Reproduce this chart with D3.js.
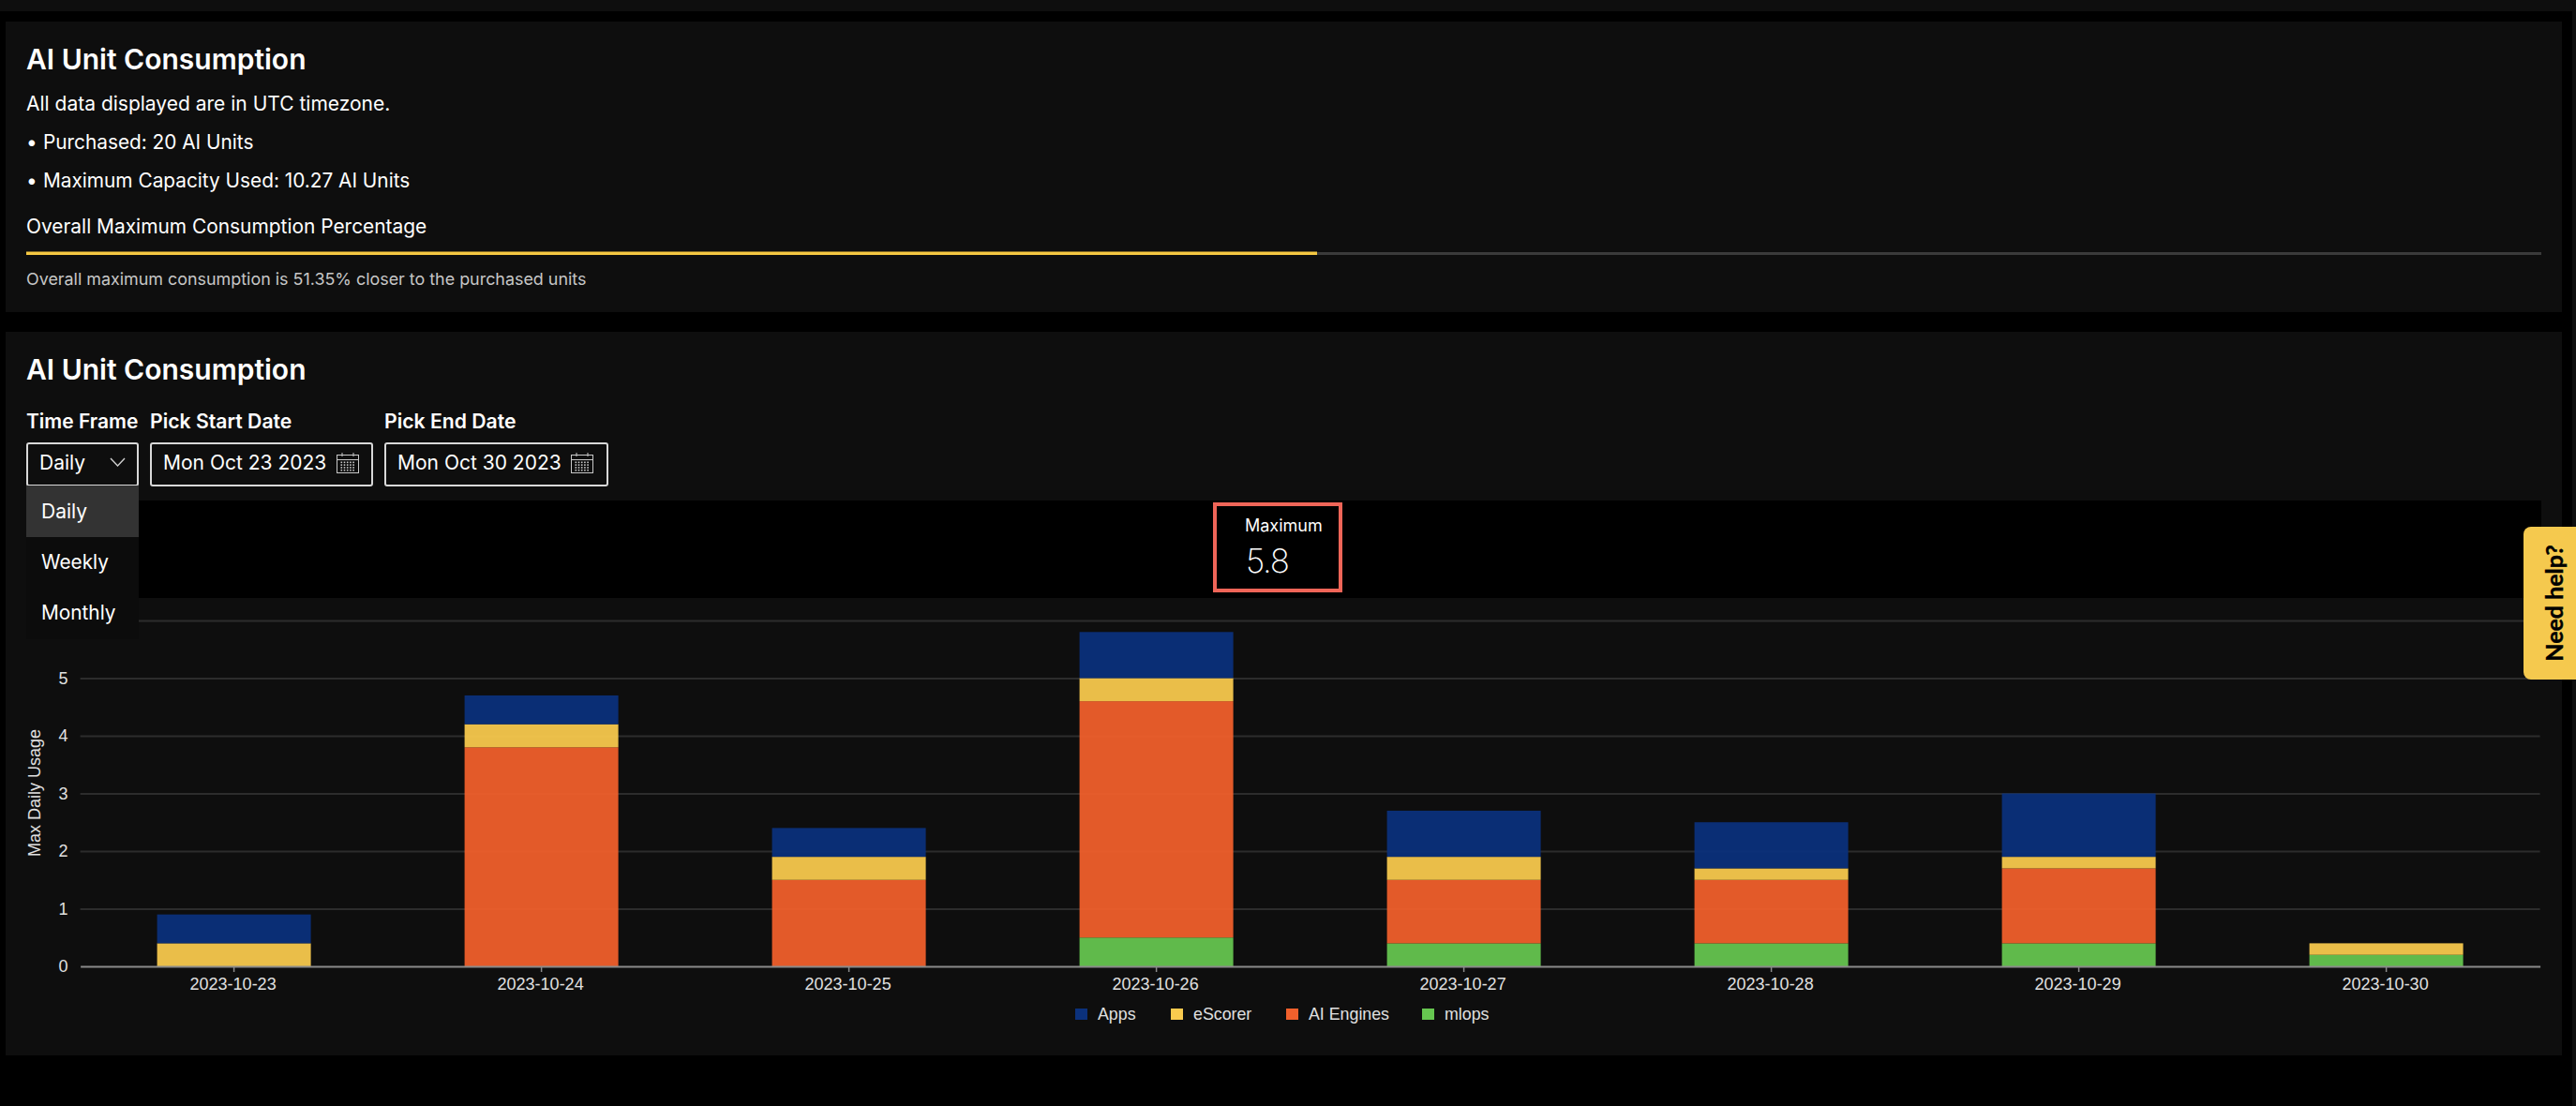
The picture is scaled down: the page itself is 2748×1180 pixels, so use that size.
<!DOCTYPE html>
<html>
<head>
<meta charset="utf-8">
<script src="https://cdn.jsdelivr.net/npm/d3@7.9.0/dist/d3.min.js"></script>
<style>
  html, body { margin: 0; padding: 0; background: #000; overflow: hidden; }
  svg { display: block; }
  text { font-family: Inter, sans-serif; fill: #fff; }
  .chart text { font-family: "Liberation Sans", Arial, sans-serif; }
</style>
</head>
<body>
<svg id="page" width="2748" height="1180"></svg>
<script>
const dates = ["2023-10-23", "2023-10-24", "2023-10-25", "2023-10-26", "2023-10-27", "2023-10-28", "2023-10-29", "2023-10-30"];
const mlops = [0, 0, 0, 0.5, 0.4, 0.4, 0.4, 0.2];
const aiEngines = [0, 3.8, 1.5, 4.1, 1.1, 1.1, 1.3, 0];
const eScorer = [0.4, 0.4, 0.4, 0.4, 0.4, 0.2, 0.2, 0.2];
const apps = [0.5, 0.5, 0.5, 0.8, 0.8, 0.8, 1.1, 0];
const yTicks = [0, 1, 2, 3, 4, 5, 6];

const seriesNames = ["mlops", "AI Engines", "eScorer", "Apps"];
const seriesValues = [mlops, aiEngines, eScorer, apps];
const colors = { "Apps": "#0b317c", "eScorer": "#f9ca4e", "AI Engines": "#f1602c", "mlops": "#66c650" };
const legendItems = [
  { name: "Apps", sx: 1147, tx: 1171 },
  { name: "eScorer", sx: 1249, tx: 1273 },
  { name: "AI Engines", sx: 1372, tx: 1396 },
  { name: "mlops", sx: 1517, tx: 1541 },
];

const svg = d3.select("#page");
const cardBg = "#0e0e0e";

// page panels
function rect(g, x, y, w, h, fill) {
  return g.append("rect").attr("x", x).attr("y", y).attr("width", w).attr("height", h).attr("fill", fill);
}
function label(g, x, y, str, size, weight, fill) {
  return g.append("text").attr("x", x).attr("y", y).attr("font-size", size)
    .attr("font-weight", weight || 400).style("fill", fill || "#fff").text(str);
}

rect(svg, 0, 0, 2748, 12, cardBg);
rect(svg, 2744, 0, 4, 1180, cardBg);
rect(svg, 6, 23, 2727, 310, cardBg);
rect(svg, 6, 354, 2727, 772, cardBg);

// summary card
label(svg, 28, 74, "AI Unit Consumption", 30, 600);
label(svg, 28, 118, "All data displayed are in UTC timezone.", 21);
label(svg, 28, 159, "•", 20.8);
label(svg, 46, 159, "Purchased: 20 AI Units", 20.8);
label(svg, 28, 200, "•", 20.8);
label(svg, 46, 200, "Maximum Capacity Used: 10.27 AI Units", 20.8);
label(svg, 28, 249, "Overall Maximum Consumption Percentage", 20.9);
rect(svg, 28, 269, 2683, 3, "#3a3a3a");
rect(svg, 28, 268.5, 1377, 3.5, "#f5c842");
label(svg, 28, 304, "Overall maximum consumption is 51.35% closer to the purchased units", 17.9, 400, "#c6c6c6");

// second card header and controls
label(svg, 28, 405, "AI Unit Consumption", 30, 600);
label(svg, 28, 457, "Time Frame", 21, 600);
label(svg, 160, 457, "Pick Start Date", 21.2, 600);
label(svg, 410, 457, "Pick End Date", 21.2, 600);

function field(x, w) {
  svg.append("rect").attr("x", x + 1).attr("y", 473).attr("width", w - 2).attr("height", 45)
    .attr("rx", 2).attr("fill", "none").attr("stroke", "#d8d8d8").attr("stroke-width", 2);
}
function calendar(x) {
  const g = svg.append("g").attr("transform", `translate(${x},483)`).attr("fill", "none").attr("stroke", "#c8c8c8");
  g.append("rect").attr("x", 0.5).attr("y", 2.5).attr("width", 23).attr("height", 19);
  g.append("path").attr("d", "M0.5 7.5H23.5M6 0V4M18 0V4");
  d3.range(4).forEach(r => d3.range(5).forEach(c => {
    g.append("rect").attr("x", 4.5 + c * 3.2).attr("y", 9.5 + r * 2.8).attr("width", 1.6).attr("height", 1.6)
      .attr("fill", "#c8c8c8").attr("stroke", "none");
  }));
}
field(28, 120);
field(160, 238);
field(410, 239);
label(svg, 42, 501, "Daily", 21);
svg.append("path").attr("d", "M118 489L125.5 497L133 489").attr("fill", "none").attr("stroke", "#cfcfcf").attr("stroke-width", 1.4);
label(svg, 174, 501, "Mon Oct 23 2023", 21);
calendar(359);
label(svg, 424, 501, "Mon Oct 30 2023", 21);
calendar(609);

// black band holding the maximum box
rect(svg, 28, 534, 2683, 104, "#000");
svg.append("rect").attr("x", 1296).attr("y", 538).attr("width", 134).attr("height", 92)
  .attr("fill", "none").attr("stroke", "#ef6558").attr("stroke-width", 4);
label(svg, 1328, 567, "Maximum", 18);
label(svg, 1329, 611, d3.max(d3.range(dates.length), i => d3.sum(seriesValues, s => s[i])).toFixed(1), 35, 200)
  .attr("letter-spacing", -1.2);

// stacked bars
const chart = svg.append("g").attr("class", "chart");
const x = d3.scaleBand().domain(dates).range([85.6, 2709.6]).paddingInner(0.5).paddingOuter(0.25);
const y = d3.scaleLinear().domain([0, 6]).range([1031, 662]);

const rows = dates.map((d, i) => {
  const row = { date: d };
  seriesNames.forEach((n, k) => { row[n] = seriesValues[k][i]; });
  return row;
});
const stacked = d3.stack().keys(seriesNames)(rows);

const yAxis = d3.axisLeft(y).tickValues(yTicks).tickSize(0).tickPadding(13).tickFormat(d3.format("d"));
const gy = chart.append("g").attr("transform", "translate(85.6,0)").call(yAxis);
gy.select(".domain").remove();
gy.selectAll("text").attr("font-size", 18).style("fill", "#e0e0e0");
gy.selectAll(".tick").filter(d => d > 0).append("line")
  .attr("x2", 2709.6 - 85.6).attr("stroke", "#2c2c2c").attr("stroke-width", 2);
// the open dropdown hides the top label in this view
gy.selectAll(".tick").filter(d => d === 6).select("text").remove();

chart.append("g").selectAll("g").data(stacked).join("g").attr("fill", d => colors[d.key]).attr("fill-opacity", 0.94)
  .selectAll("rect").data(d => d).join("rect")
  .attr("x", d => x(d.data.date))
  .attr("y", d => y(d[1]))
  .attr("width", x.bandwidth())
  .attr("height", d => y(d[0]) - y(d[1]));

const xAxis = d3.axisBottom(x).tickSizeInner(6).tickSizeOuter(0).tickPadding(6);
const gx = chart.append("g").attr("transform", "translate(0,1031)").call(xAxis);
gx.select(".domain").attr("stroke", "#8a8a8a").attr("stroke-width", 2);
gx.selectAll("line").attr("stroke", "#8a8a8a").attr("stroke-width", 1.5);
gx.selectAll("text").attr("font-size", 18).attr("dx", -1).style("fill", "#e0e0e0");

chart.append("text").attr("transform", "translate(43,846) rotate(-90)").attr("text-anchor", "middle")
  .attr("font-size", 18).style("fill", "#e0e0e0").text("Max Daily Usage");

const legend = chart.append("g").selectAll("g").data(legendItems).join("g");
legend.append("rect").attr("x", d => d.sx).attr("y", 1076).attr("width", 13).attr("height", 12)
  .attr("fill", d => colors[d.name]);
legend.append("text").attr("x", d => d.tx).attr("y", 1088).attr("font-size", 17.8)
  .style("fill", "#e0e0e0").text(d => d.name);

// open dropdown sits above the chart
rect(svg, 28, 518, 120, 164, "#0c0c0c");
rect(svg, 28, 518, 120, 55, "#333333");
label(svg, 44, 553, "Daily", 21);
label(svg, 44, 607, "Weekly", 20.8);
label(svg, 44, 661, "Monthly", 20.8);

// help tab
svg.append("path").attr("d", "M2748 562H2700a8 8 0 0 0 -8 8V717a8 8 0 0 0 8 8H2748Z").attr("fill", "#f5c94e");
svg.append("text").attr("transform", "translate(2734,643.5) rotate(-90)").attr("text-anchor", "middle")
  .attr("font-size", 25).attr("font-weight", 700).style("font-family", "Lato, sans-serif").style("fill", "#000")
  .attr("stroke", "#000").attr("stroke-width", 0.4)
  .text("Need help?");
</script>
</body>
</html>
